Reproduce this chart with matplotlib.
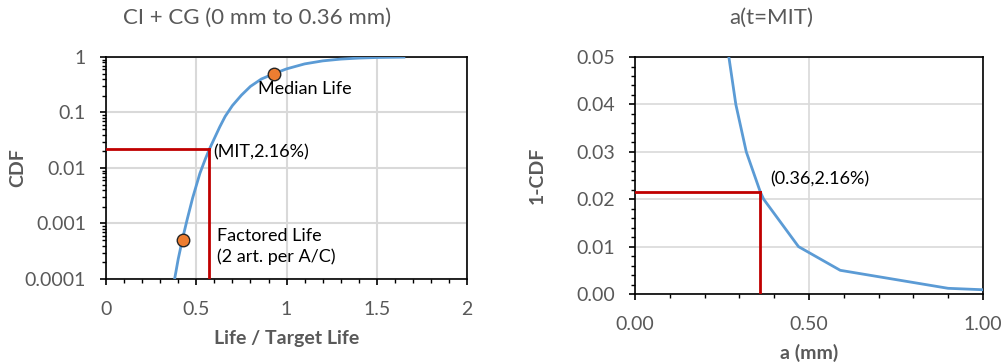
import matplotlib.pyplot as plt
from matplotlib.ticker import MultipleLocator, LogLocator, NullFormatter, FixedLocator

plt.rcParams['font.family'] = ['Lato', 'DejaVu Sans']

# left chart: CDF of life ratio
life = [0.38, 0.40, 0.425, 0.45, 0.48, 0.52, 0.55, 0.572, 0.60, 0.63, 0.66, 0.70, 0.75,
        0.80, 0.86, 0.93, 1.00, 1.10, 1.20, 1.30, 1.40, 1.50, 1.65]
cdf = [1.0e-4, 2.3e-4, 5.5e-4, 1.2e-3, 2.9e-3, 8.0e-3, 1.45e-2, 2.16e-2, 3.4e-2, 5.5e-2,
       8.5e-2, 0.133, 0.205, 0.295, 0.40, 0.50, 0.61, 0.75, 0.85, 0.915, 0.955, 0.978, 0.993]
marker_x = [0.425, 0.93]
marker_y = [5.0e-4, 0.5]
mit_life = 0.572
mit_cdf = 0.0216

# right chart: 1-CDF vs crack size
a_mm = [0.27, 0.29, 0.32, 0.36, 0.37, 0.47, 0.59, 0.90, 1.00]
one_minus_cdf = [0.05, 0.04, 0.03, 0.0216, 0.020, 0.010, 0.005, 0.0012, 0.0009]
a_mit = 0.36

blue = '#5B9BD5'
red = '#C00000'
orange = '#ED7D31'
grey_txt = '#595959'
grid_c = '#D9D9D9'

fig = plt.figure(figsize=(10.03, 3.64), dpi=100)
ax1 = fig.add_axes([0.1057, 0.2335, 0.36, 0.610])
ax2 = fig.add_axes([0.633, 0.1923, 0.347, 0.651])

# ---- left
ax1.set_yscale('log')
ax1.plot(life, cdf, color=blue, lw=2, zorder=3)
ax1.plot([0, mit_life], [mit_cdf, mit_cdf], color=red, lw=2, zorder=4)
ax1.plot([mit_life, mit_life], [1e-4, mit_cdf], color=red, lw=2, zorder=4)
ax1.plot(marker_x, marker_y, 'o', color=orange, mec='#262626', mew=1, ms=9, zorder=5)
ax1.set_xlim(0, 2)
ax1.set_ylim(1e-4, 1)
ax1.xaxis.set_major_locator(MultipleLocator(0.5))
ax1.xaxis.set_minor_locator(MultipleLocator(0.1))
ax1.xaxis.set_major_formatter(plt.FuncFormatter(lambda v, p: f'{v:g}'))
ax1.yaxis.set_major_locator(FixedLocator([1e-4, 1e-3, 1e-2, 1e-1, 1]))
ax1.set_yticklabels(['0.0001', '0.001', '0.01', '0.1', '1'])
ax1.yaxis.set_minor_locator(LogLocator(base=10, subs=range(2, 10)))
ax1.yaxis.set_minor_formatter(NullFormatter())
ax1.grid(True, which='major', color=grid_c, lw=1.5)
ax1.text(0.842, 0.26, 'Median Life', fontsize=13, va='center', ha='left')
ax1.text(0.593, 0.0195, '(MIT,2.16%)', fontsize=13, va='center', ha='left')
ax1.text(0.615, 3.9e-4, 'Factored Life\n(2 art. per A/C)', fontsize=13, va='center',
         ha='left', linespacing=1.3)
ax1.set_xlabel('Life / Target Life', fontsize=14, fontweight='bold', color=grey_txt, va='center')
ax1.set_ylabel('CDF', fontsize=14, fontweight='bold', color=grey_txt, va='center')
ax1.xaxis.set_label_coords(0.5, -0.266)
ax1.yaxis.set_label_coords(-0.244, 0.5)

# ---- right
ax2.plot(a_mm, one_minus_cdf, color=blue, lw=2, zorder=3)
ax2.plot([0, a_mit], [mit_cdf, mit_cdf], color=red, lw=2, zorder=4)
ax2.plot([a_mit, a_mit], [0, mit_cdf], color=red, lw=2, zorder=4)
ax2.set_xlim(0, 1)
ax2.set_ylim(0, 0.05)
ax2.xaxis.set_major_locator(MultipleLocator(0.5))
ax2.xaxis.set_minor_locator(MultipleLocator(0.1))
ax2.yaxis.set_major_locator(MultipleLocator(0.01))
ax2.yaxis.set_minor_locator(MultipleLocator(0.002))
ax2.xaxis.set_major_formatter(plt.FuncFormatter(lambda v, p: f'{v:.2f}'))
ax2.yaxis.set_major_formatter(plt.FuncFormatter(lambda v, p: f'{v:.2f}'))
ax2.grid(True, which='major', color=grid_c, lw=1.2)
ax2.text(0.39, 0.0242, '(0.36,2.16%)', fontsize=13, va='center', ha='left')
ax2.set_xlabel('a (mm)', fontsize=14, fontweight='bold', color=grey_txt, va='center')
ax2.set_ylabel('1-CDF', fontsize=14, fontweight='bold', color=grey_txt, va='center')
ax2.xaxis.set_label_coords(0.5, -0.249)
ax2.yaxis.set_label_coords(-0.28, 0.5)

for ax in (ax1, ax2):
    ax.set_axisbelow(True)
    for s in ax.spines.values():
        s.set_color('black')
        s.set_linewidth(1.2)
    ax.tick_params(which='major', direction='out', length=4.5, width=1.2,
                   labelsize=14, labelcolor=grey_txt, color='black')
    ax.tick_params(which='minor', direction='out', length=3, width=1, color='black')
    ax.tick_params(axis='x', which='major', pad=11)
    ax.tick_params(axis='y', which='major', pad=10)

fig.text(257 / 1003, 1 - 18 / 364, 'CI + CG (0 mm to 0.36 mm)', fontsize=16,
         color=grey_txt, ha='center', va='center')
fig.text(771 / 1003, 1 - 18 / 364, 'a(t=MIT)', fontsize=16,
         color=grey_txt, ha='center', va='center')

fig.savefig('out.png', dpi=100)
